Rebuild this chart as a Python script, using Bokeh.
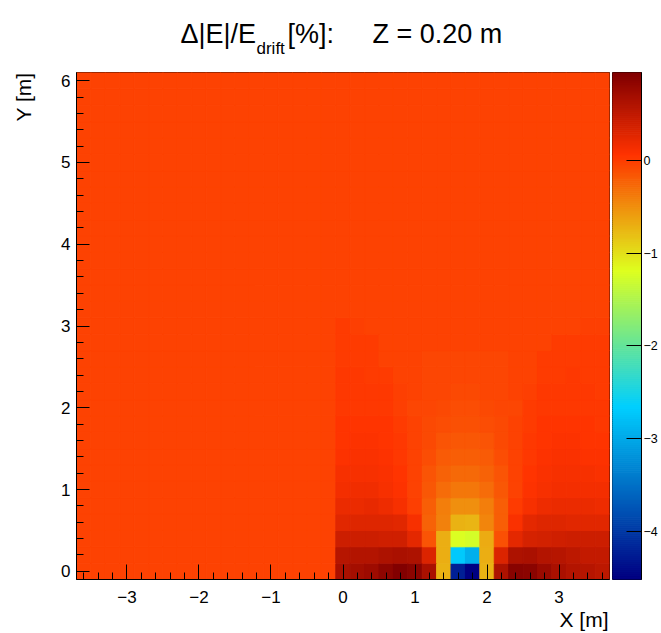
import numpy as np
from bokeh.plotting import figure
from bokeh.models import (Range1d, LinearColorMapper, FixedTicker, Title,
                          ColumnDataSource, CustomJSTickFormatter)
from bokeh.core.properties import value
from bokeh.transform import transform
from bokeh.layouts import row, column
from bokeh.embed import file_html
from bokeh.resources import INLINE

# ---------------- data ----------------
# histogram bin centres (0.2 m bins)
x_centers = [round(-3.6 + 0.2 * i, 1) for i in range(37)]
y_centers = [round(0.2 * j, 1) for j in range(31)]

# value of the undisturbed region
bg_value = -0.03

# disturbed region: columns x = 0.0 ... 3.6, rows y = 0.0 ... 3.0
right_x = [0.0, 0.2, 0.4, 0.6, 0.8, 1.0, 1.2, 1.4, 1.6, 1.8, 2.0, 2.2, 2.4, 2.6, 2.8, 3.0, 3.2, 3.4, 3.6]
row_y00 = [0.665, 0.70, 0.74, 0.84, 0.945, 0.88, 0.665, -0.72, -4.22, -4.515, -0.72, 0.63, 0.90, 0.88, 0.76, 0.66, 0.60, 0.56, 0.53]
row_y02 = [0.56, 0.60, 0.60, 0.63, 0.665, 0.63, 0.31, -0.70, -2.71, -2.94, -0.70, 0.31, 0.63, 0.665, 0.60, 0.56, 0.52, 0.49, 0.49]
row_y04 = [0.42, 0.42, 0.42, 0.40, 0.39, 0.25, -0.14, -0.70, -1.20, -1.24, -0.68, -0.12, 0.25, 0.36, 0.38, 0.40, 0.41, 0.42, 0.42]
row_y06 = [0.27, 0.29, 0.30, 0.30, 0.28, 0.12, -0.22, -0.42, -0.72, -0.74, -0.44, -0.20, 0.10, 0.24, 0.29, 0.29, 0.28, 0.27, 0.26]
row_y08 = [0.20, 0.21, 0.22, 0.19, 0.12, 0.00, -0.20, -0.40, -0.50, -0.50, -0.40, -0.19, 0.01, 0.12, 0.19, 0.21, 0.21, 0.20, 0.19]
row_y10 = [0.15, 0.16, 0.16, 0.13, 0.08, -0.02, -0.16, -0.29, -0.36, -0.36, -0.29, -0.15, -0.02, 0.08, 0.13, 0.15, 0.15, 0.15, 0.14]
row_y12 = [0.11, 0.12, 0.12, 0.10, 0.06, -0.03, -0.13, -0.22, -0.27, -0.27, -0.22, -0.13, -0.03, 0.06, 0.10, 0.11, 0.12, 0.11, 0.10]
row_y14 = [0.08, 0.09, 0.09, 0.08, 0.04, -0.03, -0.10, -0.17, -0.20, -0.20, -0.17, -0.10, -0.03, 0.04, 0.08, 0.09, 0.09, 0.08, 0.08]
row_y16 = [0.06, 0.07, 0.07, 0.06, 0.03, -0.03, -0.08, -0.13, -0.15, -0.15, -0.13, -0.08, -0.03, 0.03, 0.06, 0.07, 0.07, 0.06, 0.06]
row_y18 = [0.05, 0.05, 0.05, 0.05, 0.02, -0.03, -0.07, -0.10, -0.11, -0.11, -0.10, -0.07, -0.03, 0.02, 0.05, 0.05, 0.05, 0.05, 0.04]
row_y20 = [0.04, 0.04, 0.04, 0.04, -0.01, -0.04, -0.06, -0.08, -0.09, -0.09, -0.08, -0.06, -0.04, 0.01, 0.04, 0.04, 0.04, 0.04, 0.03]
row_y22 = [0.03, 0.03, 0.03, 0.03, -0.01, -0.03, -0.05, -0.06, -0.07, -0.07, -0.06, -0.05, -0.03, 0.00, 0.03, 0.03, 0.03, 0.03, 0.02]
row_y24 = [0.03, 0.03, 0.02, 0.02, -0.02, -0.03, -0.04, -0.05, -0.05, -0.05, -0.05, -0.04, -0.03, -0.02, 0.02, 0.02, 0.03, 0.02, 0.02]
row_y26 = [0.02, 0.02, 0.02, -0.02, -0.03, -0.03, -0.04, -0.04, -0.04, -0.04, -0.04, -0.04, -0.03, -0.03, 0.01, 0.02, 0.02, 0.02, 0.01]
row_y28 = [0.01, 0.01, 0.01, -0.03, -0.03, -0.03, -0.03, -0.03, -0.03, -0.03, -0.03, -0.03, -0.03, -0.03, -0.02, 0.01, 0.01, 0.01, 0.01]
row_y30 = [0.01, 0.00, -0.03, -0.03, -0.03, -0.03, -0.03, -0.03, -0.03, -0.03, -0.03, -0.03, -0.03, -0.03, -0.03, -0.03, -0.02, 0.00, 0.00]
right_rows = {0.0: row_y00, 0.2: row_y02, 0.4: row_y04, 0.6: row_y06, 0.8: row_y08,
              1.0: row_y10, 1.2: row_y12, 1.4: row_y14, 1.6: row_y16, 1.8: row_y18,
              2.0: row_y20, 2.2: row_y22, 2.4: row_y24, 2.6: row_y26, 2.8: row_y28,
              3.0: row_y30}

z_min, z_max = -4.515, 0.945
x_ticks = [-3, -2, -1, 0, 1, 2, 3]
y_ticks = [0, 1, 2, 3, 4, 5, 6]
z_ticks = [-4, -3, -2, -1, 0]

title_main = "\u0394|E|/E"
title_sub = "drift"
title_unit = "[%]:"
title_z = "Z = 0.20 m"
x_title = "X [m]"
y_title = "Y [m]"

# ---------------- palette (ROOT 5-stop rainbow, 255 colours) ----------------
stops = [0.00, 0.34, 0.61, 0.84, 1.00]
reds = [0.00, 0.00, 0.87, 1.00, 0.51]
greens = [0.00, 0.81, 1.00, 0.20, 0.00]
blues = [0.51, 1.00, 0.12, 0.00, 0.00]
ncol = 255
tt = np.linspace(0, 1, ncol)
palette = ["#%02x%02x%02x" % (int(round(255 * np.interp(t, stops, reds))),
                              int(round(255 * np.interp(t, stops, greens))),
                              int(round(255 * np.interp(t, stops, blues)))) for t in tt]
mapper = LinearColorMapper(palette=palette, low=z_min, high=z_max)

# ---------------- cells ----------------
xs, ys, vs = [], [], []
for yc in y_centers:
    for xc in x_centers:
        v = bg_value
        if yc in right_rows and xc in right_x:
            v = right_rows[yc][right_x.index(xc)]
        xs.append(xc)
        ys.append(yc)
        vs.append(v)
src = ColumnDataSource(dict(x=xs, y=ys, v=vs))

FONT = "Liberation Sans"
minus_fmt = CustomJSTickFormatter(code="return tick < 0 ? '\\u2212' + Math.abs(tick) : String(tick);")


def blank(fig):
    fig.grid.visible = False
    fig.outline_line_color = None
    fig.background_fill_color = "white"
    fig.border_fill_color = "white"


# ---------------- header (title) ----------------
hdr = figure(frame_width=661, frame_height=72, min_border=0,
             x_range=Range1d(0, 661), y_range=Range1d(72, 0),
             x_axis_location=None, y_axis_location=None,
             output_backend="svg", toolbar_location=None, tools="")
blank(hdr)
hdr.text(x=[180], y=[33], text=[title_main], text_font=value(FONT), text_font_size="27px",
         text_color="black", text_baseline="alphabetic", text_align="left")
hdr.text(x=[256], y=[48], text=[title_sub], text_font=value(FONT), text_font_size="17px",
         text_color="black", text_baseline="alphabetic", text_align="left")
hdr.text(x=[287], y=[33], text=[title_unit], text_font=value(FONT), text_font_size="27px",
         text_color="black", text_baseline="alphabetic", text_align="left")
hdr.text(x=[372], y=[33], text=[title_z], text_font=value(FONT), text_font_size="27px",
         text_color="black", text_baseline="alphabetic", text_align="left")

# ---------------- left strip (Y title) ----------------
lft = figure(frame_width=45, frame_height=561, min_border=0,
             x_range=Range1d(0, 45), y_range=Range1d(633, 72),
             x_axis_location=None, y_axis_location=None,
             output_backend="svg", toolbar_location=None, tools="")
blank(lft)
lft.text(x=[23], y=[72], text=[y_title], angle=np.pi / 2, text_font=value(FONT), text_font_size="21px",
         text_color="black", text_baseline="alphabetic", text_align="right")

# ---------------- main histogram ----------------
p = figure(width=565, height=561,
           min_border_left=31, min_border_right=1, min_border_top=0, min_border_bottom=54,
           x_range=Range1d(-3.7, 3.7), y_range=Range1d(-0.1, 6.1),
           output_backend="svg", toolbar_location=None, tools="")
p.rect(x="x", y="y", width=0.2, height=0.2, source=src,
       fill_color=transform("v", mapper), line_color=transform("v", mapper), line_width=1)
p.grid.visible = False
p.outline_line_color = "black"
p.outline_line_width = 1
p.background_fill_color = "white"
p.border_fill_color = "white"

minor_x = [round(-3.6 + 0.2 * i, 1) for i in range(37)]
minor_y = [round(0.2 * j, 1) for j in range(31)]
p.xaxis.ticker = FixedTicker(ticks=x_ticks, minor_ticks=[m for m in minor_x if abs(m - round(m)) > 1e-6])
p.yaxis.ticker = FixedTicker(ticks=y_ticks, minor_ticks=[m for m in minor_y if abs(m - round(m)) > 1e-6])
for ax in (p.xaxis[0], p.yaxis[0]):
    ax.formatter = minus_fmt
    ax.axis_line_color = "black"
    ax.major_tick_line_color = "black"
    ax.minor_tick_line_color = "black"
    ax.major_tick_out = 0
    ax.minor_tick_out = 0
    ax.minor_tick_in = 7
    ax.major_label_text_font = FONT
    ax.major_label_text_font_size = "17px"
    ax.major_label_text_color = "black"
p.xaxis.major_tick_in = 15
p.yaxis.major_tick_in = 13
p.xaxis.major_label_standoff = 11
p.yaxis.major_label_standoff = 6

# X title, right-aligned under the axis
p.add_layout(Title(text=x_title, align="right", standoff=0, offset=1,
                   text_font=FONT, text_font_size="21px", text_font_style="normal",
                   text_color="black"), "below")

# ---------------- colour bar ----------------
edges = np.linspace(z_min, z_max, ncol + 1)
cb_src = ColumnDataSource(dict(bottom=edges[:-1], top=edges[1:], color=palette))
p2 = figure(width=51, height=561,
            min_border_left=2, min_border_right=20, min_border_top=0, min_border_bottom=54,
            x_range=Range1d(0, 1), y_range=Range1d(z_min, z_max),
            x_axis_location=None, y_axis_location="right",
            output_backend="svg", toolbar_location=None, tools="")
p2.quad(left=0, right=1, bottom="bottom", top="top", source=cb_src,
        fill_color="color", line_color="color", line_width=1)
p2.grid.visible = False
p2.outline_line_color = "black"
p2.border_fill_color = "white"
ax2 = p2.yaxis[0]
ax2.ticker = FixedTicker(ticks=z_ticks, minor_ticks=[])
ax2.formatter = minus_fmt
ax2.axis_line_color = "black"
ax2.major_tick_in = 15
ax2.major_tick_out = 0
ax2.minor_tick_in = 0
ax2.minor_tick_out = 0
ax2.major_tick_line_color = "black"
ax2.major_label_standoff = 2
ax2.major_label_text_font = FONT
ax2.major_label_text_font_size = "12.5px"
ax2.major_label_text_color = "black"

layout = column(hdr, row(lft, p, p2))
open("out.html", "w").write(file_html(layout, INLINE))
